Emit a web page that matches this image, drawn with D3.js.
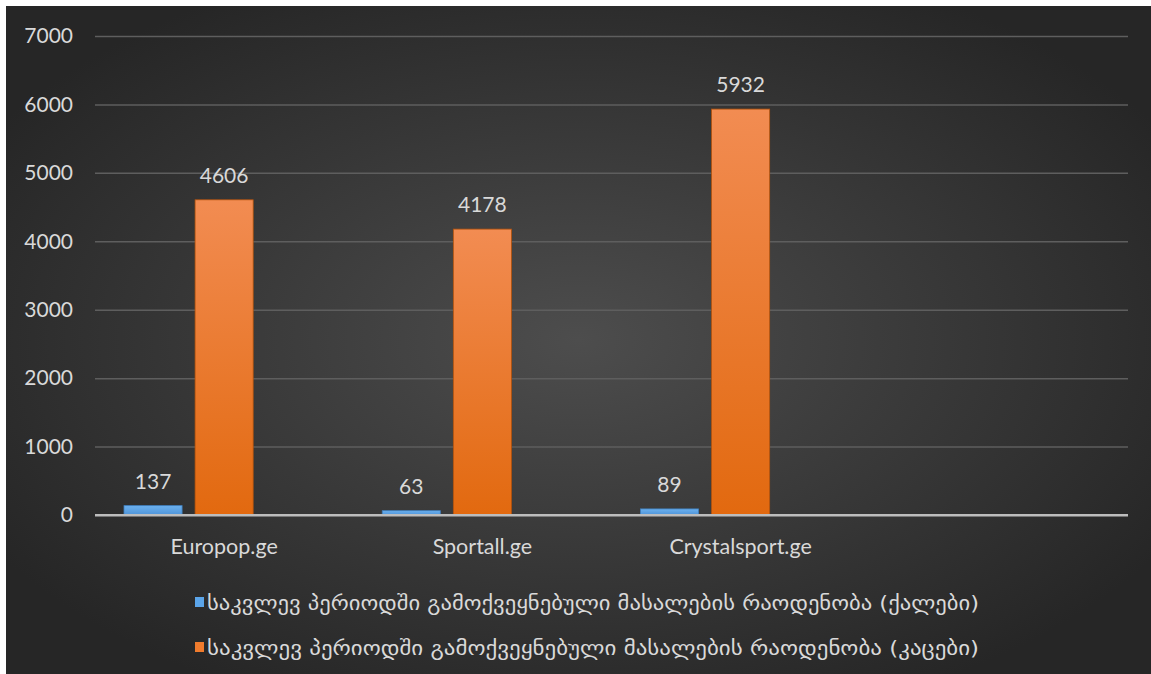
<!DOCTYPE html>
<html>
<head>
<meta charset="utf-8">
<script src="https://cdn.jsdelivr.net/npm/d3@7"></script>
<style>
  html, body { margin: 0; padding: 0; background: #fff; }
  svg { display: block; }
</style>
</head>
<body>
<script>
// data
var categories = ["Europop.ge", "Sportall.ge", "Crystalsport.ge", ""];
var seriesNames = [
  "საკვლევ პერიოდში გამოქვეყნებული მასალების რაოდენობა (ქალები)",
  "საკვლევ პერიოდში გამოქვეყნებული მასალების რაოდენობა (კაცები)",
  ""
];
var women = [137, 63, 89, null];
var men = [4606, 4178, 5932, null];
var yTicks = [0, 1000, 2000, 3000, 4000, 5000, 6000, 7000];

var width = 1151, height = 674;
var svg = d3.select("body").append("svg").attr("width", width).attr("height", height);

var defs = svg.append("defs");
var bg = defs.append("radialGradient").attr("id", "bg")
  .attr("cx", "50%").attr("cy", "50%").attr("r", "60%");
bg.append("stop").attr("offset", "0%").attr("stop-color", "#4d4d4d");
bg.append("stop").attr("offset", "100%").attr("stop-color", "#262626");

var og = defs.append("linearGradient").attr("id", "orange").attr("x1", 0).attr("y1", 0).attr("x2", 0).attr("y2", 1);
og.append("stop").attr("offset", "0%").attr("stop-color", "#f28c52");
og.append("stop").attr("offset", "100%").attr("stop-color", "#e2690f");
var bgr = defs.append("linearGradient").attr("id", "blue").attr("x1", 0).attr("y1", 0).attr("x2", 0).attr("y2", 1);
bgr.append("stop").attr("offset", "0%").attr("stop-color", "#6cb1ef");
bgr.append("stop").attr("offset", "100%").attr("stop-color", "#4f94d8");

svg.append("rect").attr("x", 6).attr("y", 6).attr("width", width - 6).attr("height", height - 6)
  .attr("fill", "url(#bg)");

var margin = { left: 95, right: 23, top: 36, bottom: 159 };
var x0 = d3.scaleBand().domain(d3.range(categories.length))
  .range([margin.left, width - margin.right]);
var x1 = d3.scaleBand().domain(d3.range(seriesNames.length))
  .range([0, x0.bandwidth()]).paddingInner(0.183).paddingOuter(0.408);
var y = d3.scaleLinear().domain([0, 7000]).range([height - margin.bottom, margin.top]);

var font = "Lato, 'DejaVu Sans', sans-serif";

// gridlines + y axis labels
var yAxis = d3.axisLeft(y).tickValues(yTicks).tickFormat(d3.format("d"))
  .tickSize(-(width - margin.right - margin.left)).tickPadding(22);
var gy = svg.append("g").attr("transform", "translate(" + margin.left + ",0)").call(yAxis);
gy.select(".domain").remove();
gy.selectAll(".tick line").attr("stroke", "#5e5e5e").attr("stroke-width", 1.5)
  .filter(function (d) { return d === 0; }).attr("stroke", "#bdbdbd").attr("stroke-width", 2);
gy.selectAll(".tick text").attr("fill", "#d9d9d9").attr("font-family", font).attr("font-size", 21);

// x axis labels
var xAxis = d3.axisBottom(x0).tickFormat(function (i) { return categories[i]; }).tickSize(0).tickPadding(24);
var gx = svg.append("g").attr("transform", "translate(0," + y(0) + ")").call(xAxis);
gx.select(".domain").remove();
gx.selectAll(".tick text").attr("fill", "#d9d9d9").attr("font-family", font).attr("font-size", 21.5);

var series = [
  { values: women, fill: "url(#blue)", stroke: "#3f7fbf" },
  { values: men, fill: "url(#orange)", stroke: "#b5530c" }
];

series.forEach(function (s, si) {
  var g = svg.append("g");
  var pts = s.values.map(function (v, i) { return { i: i, v: v }; }).filter(function (d) { return d.v != null; });
  g.selectAll("rect").data(pts).enter().append("rect")
    .attr("x", function (d) { return x0(d.i) + x1(si); })
    .attr("y", function (d) { return y(d.v); })
    .attr("width", x1.bandwidth())
    .attr("height", function (d) { return y(0) - y(d.v); })
    .attr("fill", s.fill)
    .attr("stroke", s.stroke).attr("stroke-width", 0.8);
  g.selectAll("text").data(pts).enter().append("text")
    .attr("x", function (d) { return x0(d.i) + x1(si) + x1.bandwidth() / 2; })
    .attr("y", function (d) { return y(d.v) - 17; })
    .attr("text-anchor", "middle")
    .attr("fill", "#d9d9d9").attr("font-family", font).attr("font-size", 21)
    .text(function (d) { return d.v; });
});

// redraw zero line on top of bars
svg.append("line").attr("x1", margin.left).attr("x2", width - margin.right)
  .attr("y1", y(0)).attr("y2", y(0)).attr("stroke", "#bdbdbd").attr("stroke-width", 2);

// legend
var legend = svg.append("g");
var legendRows = [
  { name: seriesNames[0], color: "#5ba5ea" },
  { name: seriesNames[1], color: "#ef7b2d" }
];
legend.selectAll("rect").data(legendRows).enter().append("rect")
  .attr("x", 195).attr("y", function (d, i) { return 597 + i * 45; })
  .attr("width", 9).attr("height", 10).attr("fill", function (d) { return d.color; });
legend.selectAll("text").data(legendRows).enter().append("text")
  .attr("x", 207).attr("y", function (d, i) { return 610 + i * 45; })
  .attr("fill", "#d9d9d9").attr("font-family", "'DejaVu Sans', sans-serif").attr("font-size", 19)
  .attr("textLength", 772).attr("lengthAdjust", "spacingAndGlyphs")
  .text(function (d) { return d.name; });
</script>
</body>
</html>
